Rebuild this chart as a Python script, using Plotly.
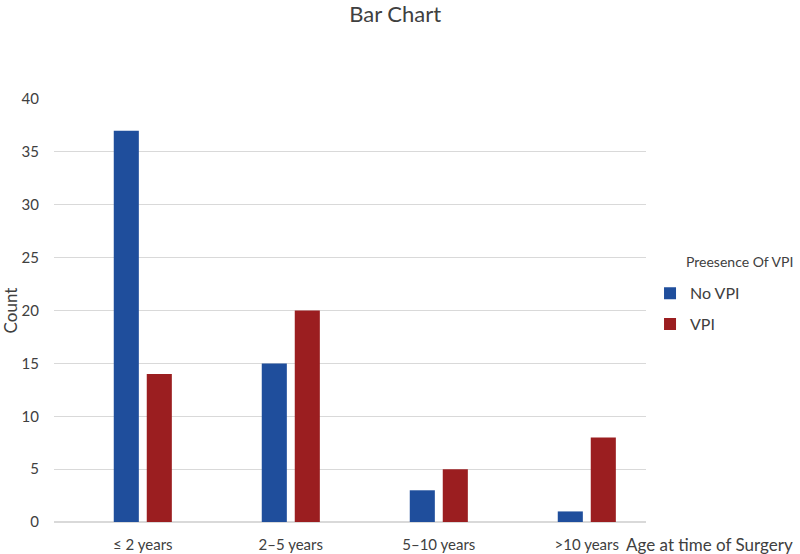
import plotly.graph_objects as go

categories = ["≤ 2 years", "2–5 years", "5–10 years", ">10 years"]
no_vpi = [37, 15, 3, 1]
vpi = [14, 20, 5, 8]
series_names = ["No VPI", "VPI"]
colors = ["#1F4E9C", "#9B1E20"]
y_ticks = [0, 5, 10, 15, 20, 25, 30, 35, 40]
legend_title = "Preesence Of VPI"
x_title = "Age at time of Surgery"
y_title = "Count"

FONT = "Lato, 'Open Sans', sans-serif"
TXT = "#404040"

fig = go.Figure()
for name, vals, col in zip(series_names, [no_vpi, vpi], colors):
    fig.add_trace(go.Bar(x=categories, y=vals, name=name, marker_color=col,
                         marker_line_width=0, legendgroup=name))

fig.update_layout(
    width=800, height=554,
    margin=dict(l=54, r=154, t=99, b=32, autoexpand=False),
    paper_bgcolor="white", plot_bgcolor="white",
    font=dict(family=FONT, color=TXT, size=15),
    title=dict(text="Bar Chart", x=0.494, xanchor="center", yref="container",
               y=0.975, yanchor="middle", font=dict(size=22, color=TXT)),
    barmode="group", bargap=0.554, bargroupgap=0.24,
    legend=dict(x=1.0068, xanchor="left", y=0.581, yanchor="top",
                font=dict(size=16), itemwidth=30,
                traceorder="grouped", tracegroupgap=7),
    xaxis=dict(range=[-0.6, 3.4], showgrid=False, showline=False, zeroline=False,
               ticks="", tickfont=dict(size=15), automargin=False,
               ticklabelstandoff=12),
    yaxis=dict(range=[0, 40], tickvals=y_ticks, showgrid=True, gridcolor="#D9D9D9",
               gridwidth=1, zeroline=True, zerolinecolor="#D9D9D9", showline=False,
               ticks="", tickfont=dict(size=15), automargin=False,
               ticklabelstandoff=14,
               title=dict(text=y_title, font=dict(size=17), standoff=8)),
    annotations=[
        dict(text=x_title, xref="paper", yref="paper",
             x=0.9628, y=0, xanchor="left", yanchor="middle", yshift=-22,
             showarrow=False, font=dict(size=17, color=TXT)),
        dict(text=legend_title, xref="paper", yref="paper",
             x=1.0642, y=0.6147, xanchor="left", yanchor="middle",
             showarrow=False, font=dict(size=14, color=TXT)),
    ],
)

fig.write_html("out.html", config={"displayModeBar": False},
               post_script="document.body.style.margin='0';")
